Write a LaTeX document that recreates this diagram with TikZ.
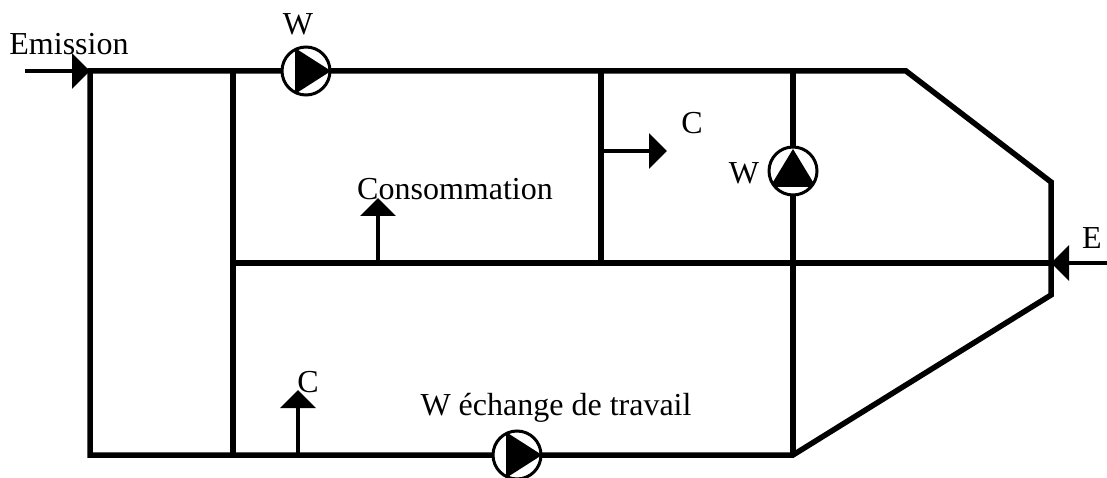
\documentclass[tikz,border=0pt]{standalone}
\usepackage{fontspec}
\setmainfont{Liberation Serif}
\usetikzlibrary{arrows.meta}

\begin{document}
\begin{tikzpicture}[
    x=1pt, y=-1pt,
    pipe/.style={line width=5.5pt},
    flow/.style={line width=3.5pt, -{Triangle[length=18pt,width=35pt]}},
    pump/.style={circle, draw, line width=3pt, fill=white, inner sep=0pt, minimum size=48pt},
    pumpright/.style={pump, path picture={\fill[black] (-11,-23) -- (25,0) -- (-11,23) -- cycle;}},
    pumpup/.style={pump, path picture={\fill[black] (-23,16) -- (0,-22) -- (23,16) -- cycle;}},
    txt/.style={anchor=base, inner sep=0pt, font=\fontsize{32}{36}\selectfont}
]
\useasboundingbox (0,0) rectangle (1107,478);

\coordinate (topleft) at (90,71);
\coordinate (toptee) at (233,71);
\coordinate (topmid) at (601,71);
\coordinate (topright) at (793,71);
\coordinate (slantstart) at (906,71);
\coordinate (sideup) at (1051,182);
\coordinate (sidemid) at (1051,263);
\coordinate (sidedown) at (1051,295);
\coordinate (botright) at (793,455);
\coordinate (bottee) at (233,455);
\coordinate (botleft) at (90,455);
\coordinate (midleft) at (233,263);
\coordinate (midtee) at (601,263);
\coordinate (emisstart) at (25,71);
\coordinate (estart) at (1107,263);
\coordinate (cstart) at (601,151);
\coordinate (cend) at (667,151);
\coordinate (consstart) at (378,263);
\coordinate (consend) at (378,198);
\coordinate (clowstart) at (298,455);
\coordinate (clowend) at (298,390);

\draw[pipe] (topleft) -- (slantstart) -- (sideup) -- (sidedown) -- (botright) -- (botleft) -- cycle;
\draw[pipe] (toptee) -- (bottee);
\draw[pipe] (midleft) -- (sidemid);
\draw[pipe] (topmid) -- (midtee);
\draw[pipe] (topright) -- (botright);

\node[pumpright] (pumptop) at (306,71) {};
\node[pumpup] (pumpside) at (793,171) {};
\node[pumpright] (pumpbot) at (517,455) {};

\draw[flow] (emisstart) -- (topleft);
\draw[flow] (estart) -- (sidemid);
\draw[flow] (cstart) -- (cend);
\draw[flow] (consstart) -- (consend);
\draw[flow] (clowstart) -- (clowend);

\node[txt] (emission) at (69,55) {Emission};
\node[txt] (wtop) at (298,35) {W};
\node[txt] (cupper) at (692,134) {C};
\node[txt] (wside) at (744,184) {W};
\node[txt] (consommation) at (455,200) {Consommation};
\node[txt] (eright) at (1092,248) {E};
\node[txt] (clower) at (308,392) {C};
\node[txt] (echange) at (556,415) {W échange de travail};
\end{tikzpicture}
\end{document}
